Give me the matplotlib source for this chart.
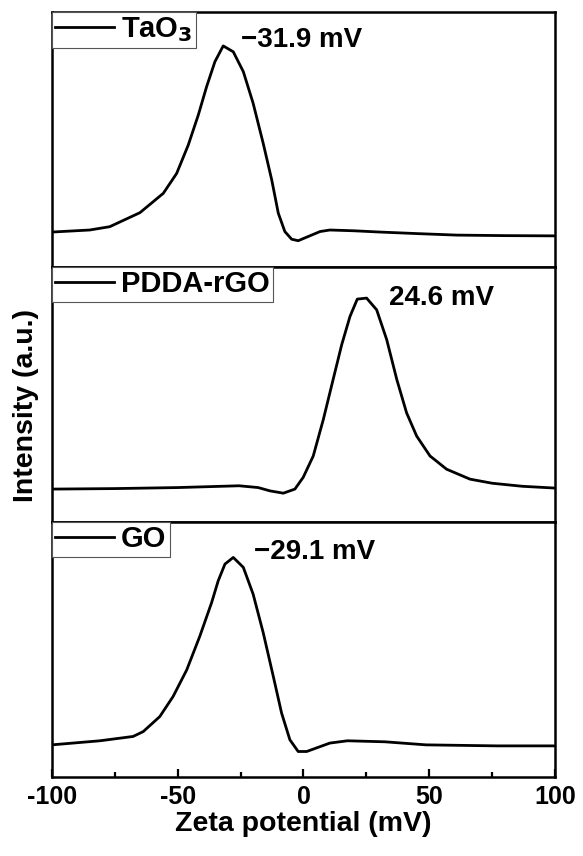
import matplotlib
matplotlib.use("Agg")
import matplotlib.pyplot as plt
from matplotlib.ticker import MultipleLocator

plt.rcParams['font.family'] = ['Liberation Sans', 'DejaVu Sans']
plt.rcParams['font.weight'] = 'bold'
plt.rcParams['axes.unicode_minus'] = False
plt.rcParams['mathtext.default'] = 'bf'

# zeta potential (mV) and normalised intensity
tao3_x = [-100, -85, -77, -65, -55.7, -50.4, -45.8, -41.8, -38.5, -35.2, -31.9,
          -27.9, -23.9, -20, -16, -12.6, -10, -7.4, -4.7, -2.1, 6.6, 10.5, 20,
          30.4, 45, 61, 80, 100]
tao3_y = [0.137, 0.145, 0.158, 0.213, 0.289, 0.367, 0.478, 0.596, 0.707, 0.805,
          0.867, 0.844, 0.766, 0.642, 0.485, 0.341, 0.211, 0.139, 0.109, 0.103,
          0.139, 0.145, 0.142, 0.137, 0.131, 0.125, 0.123, 0.122]

pdda_x = [-100, -75, -50, -25.6, -18, -13.3, -8, -3.4, -0.1, 3.9, 7.9, 11.8,
          15.2, 18.5, 21.4, 25.1, 29.1, 33.1, 37.1, 41, 45, 50.3, 56.9, 66.2,
          75, 87, 100]
pdda_y = [0.129, 0.131, 0.135, 0.142, 0.135, 0.122, 0.113, 0.129, 0.175, 0.259,
          0.402, 0.559, 0.695, 0.806, 0.874, 0.878, 0.832, 0.715, 0.559, 0.428,
          0.337, 0.259, 0.207, 0.168, 0.152, 0.14, 0.133]

go_x = [-100, -80.9, -67.7, -63.7, -57.1, -51.8, -46.4, -41.2, -36.5, -33.9,
        -31.2, -27.9, -23.9, -20, -16, -12, -8.7, -5.4, -2.1, 1.3, 10.5, 17.5,
        32.4, 48.7, 77, 100]
go_y = [0.126, 0.142, 0.159, 0.178, 0.237, 0.316, 0.42, 0.552, 0.684, 0.769,
        0.835, 0.861, 0.822, 0.717, 0.566, 0.395, 0.251, 0.146, 0.1, 0.1, 0.133,
        0.142, 0.138, 0.126, 0.122, 0.122]

labels = ["TaO$_3$", "PDDA-rGO", "GO"]
peak_text = ["\u221231.9 mV", "24.6 mV", "\u221229.1 mV"]
peak_pos = [(-25, 0.89), (34, 0.88), (-19.7, 0.884)]

fig, axes = plt.subplots(3, 1, figsize=(5.83, 8.56), dpi=100, sharex=True)
fig.subplots_adjust(left=0.089, right=0.952, bottom=0.0923, top=0.986, hspace=0)

series = [(tao3_x, tao3_y), (pdda_x, pdda_y), (go_x, go_y)]
for i, ax in enumerate(axes):
    xs, ys = series[i]
    ax.plot(xs, ys, color='black', lw=2.0, label=labels[i],
            solid_joinstyle='round')
    ax.set_xlim(-100, 100)
    ax.set_ylim(0, 1)
    ax.set_yticks([])
    for s in ax.spines.values():
        s.set_linewidth(1.8)
    leg = ax.legend(loc='upper left', borderaxespad=0, fontsize=21,
                    handlelength=2.0, handletextpad=0.25, borderpad=0.12,
                    fancybox=False, framealpha=1, edgecolor='#555555')
    leg.get_frame().set_linewidth(0.8)
    ax.text(peak_pos[i][0], peak_pos[i][1], peak_text[i], fontsize=20,
            fontweight='bold', ha='left', va='center',
            transform=ax.get_xaxis_transform())
    if i < 2:
        ax.tick_params(axis='x', which='both', bottom=False, labelbottom=False)

ax = axes[2]
ax.xaxis.set_major_locator(MultipleLocator(50))
ax.xaxis.set_minor_locator(MultipleLocator(25))
ax.tick_params(axis='x', which='major', direction='in', length=6, width=1.6,
               labelsize=18, pad=6)
ax.tick_params(axis='x', which='minor', direction='in', length=3.5, width=1.6)
ax.set_xlabel("Zeta potential (mV)", fontsize=20.5, fontweight='bold', labelpad=1)

fig.text(26 / 583, 1 - 405 / 856, "Intensity (a.u.)", rotation=90, fontsize=20.5,
         fontweight='bold', ha='center', va='center')

fig.savefig("out.png", dpi=100)
